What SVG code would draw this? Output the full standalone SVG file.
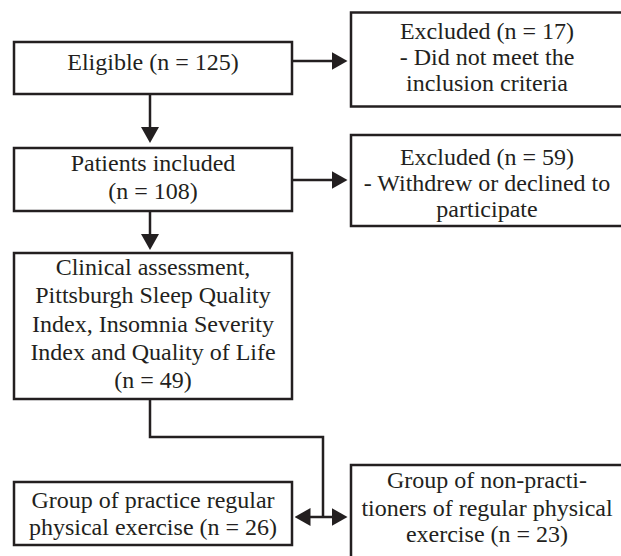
<svg xmlns="http://www.w3.org/2000/svg" width="621" height="556" viewBox="0 0 621 556">
<style>
.box{fill:#fff;stroke:#231f20;stroke-width:2.5}
.t{font-family:"Liberation Serif","Times New Roman",serif;font-size:24px;fill:#231f20;text-anchor:middle}
.c{fill:none;stroke:#231f20;stroke-width:2.5}
</style>
<defs>
<marker id="ah" viewBox="0 0 16 18" refX="8" refY="9" markerWidth="16" markerHeight="18" markerUnits="userSpaceOnUse" orient="auto-start-reverse">
<path d="M0,0 L16,9 L0,18 z" fill="#231f20"/>
</marker>
</defs>
<rect width="621" height="556" fill="#fff"/>
<g id="connectors">
<line class="c" x1="292" y1="61" x2="339.5" y2="61" marker-end="url(#ah)"/>
<line class="c" x1="150" y1="94" x2="150" y2="135" marker-end="url(#ah)"/>
<line class="c" x1="292" y1="180" x2="339.5" y2="180" marker-end="url(#ah)"/>
<line class="c" x1="150" y1="211" x2="150" y2="242" marker-end="url(#ah)"/>
<polyline class="c" points="150,399 150,437 323,437 323,517"/>
<line class="c" x1="302.5" y1="517" x2="339.5" y2="517" marker-start="url(#ah)" marker-end="url(#ah)"/>
</g>
<g id="eligible">
<rect class="box" x="14" y="42" width="278" height="52"/>
<text class="t" x="153" y="69.5">Eligible (n = 125)</text>
</g>
<g id="excluded1">
<rect class="box" x="351" y="12.5" width="273" height="94"/>
<text class="t" x="487" y="38.5">Excluded (n = 17)</text>
<text class="t" x="487" y="65">- Did not meet the</text>
<text class="t" x="487" y="91">inclusion criteria</text>
</g>
<g id="patients">
<rect class="box" x="14" y="148" width="278" height="63"/>
<text class="t" x="153" y="171">Patients included</text>
<text class="t" x="153" y="199">(n = 108)</text>
</g>
<g id="excluded2">
<rect class="box" x="351" y="135" width="273" height="91"/>
<text class="t" x="487" y="165">Excluded (n = 59)</text>
<text class="t" x="487" y="191">- Withdrew or declined to</text>
<text class="t" x="487" y="217">participate</text>
</g>
<g id="clinical">
<rect class="box" x="14" y="253" width="278" height="146"/>
<text class="t" x="153" y="275">Clinical assessment,</text>
<text class="t" x="153" y="303">Pittsburgh Sleep Quality</text>
<text class="t" x="153" y="332">Index, Insomnia Severity</text>
<text class="t" x="153" y="360">Index and Quality of Life</text>
<text class="t" x="153" y="388">(n = 49)</text>
</g>
<g id="practice">
<rect class="box" x="14" y="482" width="278" height="63"/>
<text class="t" x="153" y="508">Group of practice regular</text>
<text class="t" x="153" y="535">physical exercise (n = 26)</text>
</g>
<g id="nonpractice">
<rect class="box" x="351" y="465" width="273" height="100"/>
<text class="t" x="487" y="488">Group of non-practi-</text>
<text class="t" x="487" y="516">tioners of regular physical</text>
<text class="t" x="487" y="542">exercise (n = 23)</text>
</g>
</svg>
